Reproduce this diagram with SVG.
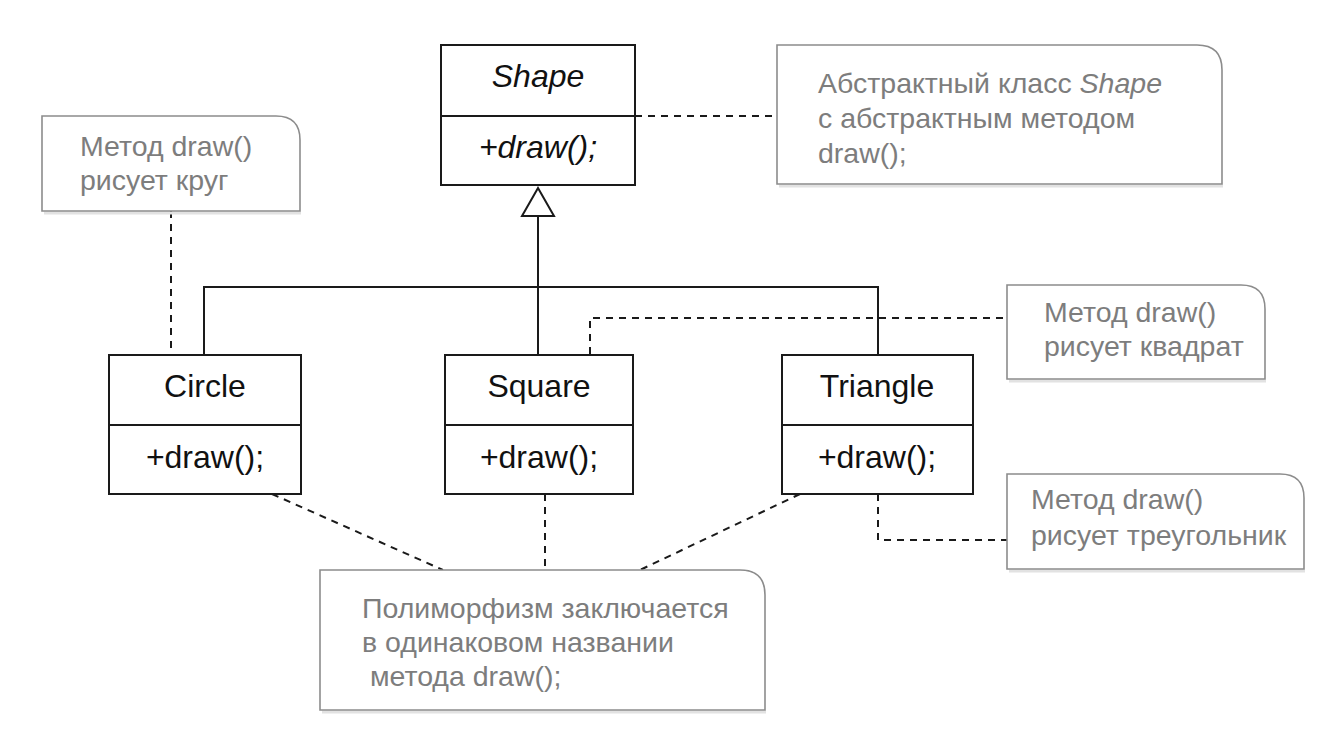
<svg xmlns="http://www.w3.org/2000/svg" width="1317" height="729" viewBox="0 0 1317 729">
<style>
.cls{fill:#fff;stroke:#1a1a1a;stroke-width:2}
.div{stroke:#1a1a1a;stroke-width:2}
.ct{font-family:"Liberation Sans",Arial,sans-serif;font-size:32px;fill:#111;text-anchor:middle}
.it{font-style:italic}
.note{fill:#fff;stroke:#8c8c8c;stroke-width:1.6}
.shadow{fill:none;stroke:#e2e2e2;stroke-width:3}
.nt{font-family:"Liberation Sans",Arial,sans-serif;font-size:28.5px;fill:#7d7d7d}
.solid{fill:none;stroke:#1a1a1a;stroke-width:2}
.dash{fill:none;stroke:#1a1a1a;stroke-width:2;stroke-dasharray:7 6}
</style>
<rect width="1317" height="729" fill="#fff"/>
<g id="connectors">
<line class="solid" x1="538" y1="216" x2="538" y2="354"/>
<polyline class="solid" points="204,354 204,287 878,287 878,354"/>
<polygon points="538,188 522,216 554,216" fill="#fff" stroke="#1a1a1a" stroke-width="2"/>
<line class="dash" x1="635" y1="116" x2="777" y2="116"/>
<line class="dash" x1="171" y1="211" x2="171" y2="354"/>
<polyline class="dash" points="590,354 590,318 1007,318"/>
<polyline class="dash" points="878,494 878,540 1007,540"/>
<line class="dash" x1="272" y1="494" x2="443" y2="570"/>
<line class="dash" x1="545" y1="494" x2="545" y2="570"/>
<line class="dash" x1="800" y1="494" x2="640" y2="570"/>
</g>
<g id="shape">
<rect class="cls" x="441" y="45" width="194" height="140"/>
<line class="div" x1="441" y1="116" x2="635" y2="116"/>
<text class="ct it" x="538" y="87">Shape</text>
<text class="ct it" x="538" y="158">+draw();</text>
</g>
<g id="circle">
<rect class="cls" x="109" y="355" width="192" height="139"/>
<line class="div" x1="109" y1="425" x2="301" y2="425"/>
<text class="ct" x="205" y="397">Circle</text>
<text class="ct" x="205" y="468">+draw();</text>
</g>
<g id="square">
<rect class="cls" x="445" y="355" width="188" height="139"/>
<line class="div" x1="445" y1="425" x2="633" y2="425"/>
<text class="ct" x="539" y="397">Square</text>
<text class="ct" x="539" y="468">+draw();</text>
</g>
<g id="triangle">
<rect class="cls" x="782" y="355" width="191" height="139"/>
<line class="div" x1="782" y1="425" x2="973" y2="425"/>
<text class="ct" x="877" y="397">Triangle</text>
<text class="ct" x="877" y="468">+draw();</text>
</g>
<g id="note-shape">
<path class="shadow" d="M779,186 H1223"/>
<path class="note" d="M777,45 H1197 Q1222,45 1222,70 V184 H777 Z"/>
<text class="nt" x="818" y="93">Абстрактный класс <tspan font-style="italic">Shape</tspan></text>
<text class="nt" x="818" y="128">с абстрактным методом</text>
<text class="nt" x="818" y="163">draw();</text>
</g>
<g id="note-circle">
<path class="shadow" d="M44,213 H301"/>
<path class="note" d="M42,116 H276 Q300,116 300,140 V211 H42 Z"/>
<text class="nt" x="80" y="156">Метод draw()</text>
<text class="nt" x="80" y="190">рисует круг</text>
</g>
<g id="note-square">
<path class="shadow" d="M1009,381 H1266"/>
<path class="note" d="M1007,285 H1241 Q1265,285 1265,309 V379 H1007 Z"/>
<text class="nt" x="1044" y="322">Метод draw()</text>
<text class="nt" x="1044" y="356">рисует квадрат</text>
</g>
<g id="note-triangle">
<path class="shadow" d="M1009,571 H1305"/>
<path class="note" d="M1007,474 H1280 Q1304,474 1304,498 V569 H1007 Z"/>
<text class="nt" x="1031" y="509">Метод draw()</text>
<text class="nt" x="1031" y="545">рисует треугольник</text>
</g>
<g id="note-poly">
<path class="shadow" d="M322,712 H766"/>
<path class="note" d="M320,570 H740 Q765,570 765,595 V710 H320 Z"/>
<text class="nt" x="362" y="618">Полиморфизм заключается</text>
<text class="nt" x="362" y="652">в одинаковом названии</text>
<text class="nt" x="362" y="686" xml:space="preserve"> метода draw();</text>
</g>
</svg>
